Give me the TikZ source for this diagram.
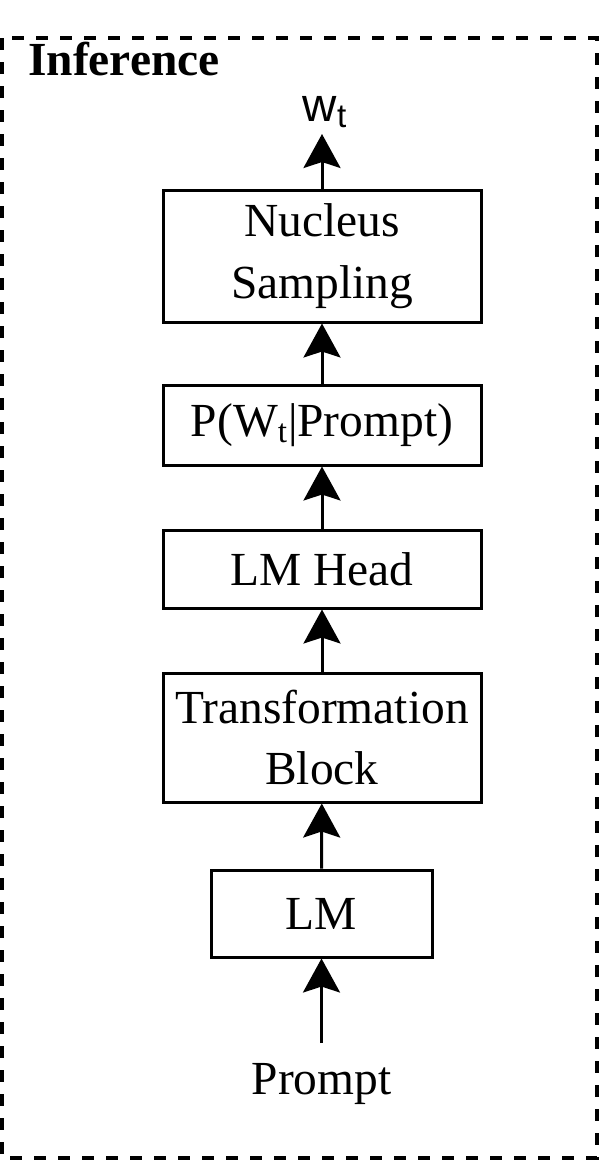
\documentclass[tikz,border=0pt]{standalone}
\usepackage{fontspec}
\setmainfont{Liberation Serif}
\newfontfamily\wfont{Liberation Sans}
\usetikzlibrary{arrows.meta}
\begin{document}
\begin{tikzpicture}[
    block/.style={draw, line width=0.06cm, minimum width=6.36cm, align=center,
        font=\fontsize{27}{35}\selectfont, inner sep=0pt},
    flow/.style={line width=0.06cm, -{Stealth[length=0.68cm, width=0.74cm, inset=0.12cm]}}
  ]
    \useasboundingbox (0, 0) rectangle (12, -23.2);
    \draw[line width=0.07cm, dash pattern=on 0.24cm off 0.24cm] (0.04, -0.76) rectangle (11.94, -23.16);
    \node[anchor=base west, font=\fontsize{27}{30}\selectfont\bfseries] (title) at (0.44, -1.5) {Inference};
    \node[block, minimum height=2.64cm] (nucleus) at (6.44, -5.12) {Nucleus\\Sampling};
    \node[block, minimum height=1.6cm] (prob) at (6.44, -8.5) {P(W\textsubscript{t}|Prompt)};
    \node[block, minimum height=1.56cm] (head) at (6.44, -11.38) {LM Head};
    \node[block, minimum height=2.58cm] (trans) at (6.44, -14.75) {Transformation\\Block};
    \node[block, minimum width=4.42cm, minimum height=1.74cm] (lm) at (6.43, -18.27) {LM};
    \node[font=\fontsize{27}{30}\selectfont] (prompt) at (6.43, -21.68) {Prompt};
    \node[anchor=base, font=\fontsize{27}{30}\selectfont\wfont] (wt) at (6.5, -2.42) {w\textsubscript{t}};
    \coordinate (wt_in) at (6.44, -2.68);
    \coordinate (prompt_out) at (6.43, -20.86);
    \draw[flow] (prompt_out) -- (lm);
    \draw[flow] (lm) -- (trans);
    \draw[flow] (trans) -- (head);
    \draw[flow] (head) -- (prob);
    \draw[flow] (prob) -- (nucleus);
    \draw[flow] (nucleus) -- (wt_in);
\end{tikzpicture}
\end{document}
